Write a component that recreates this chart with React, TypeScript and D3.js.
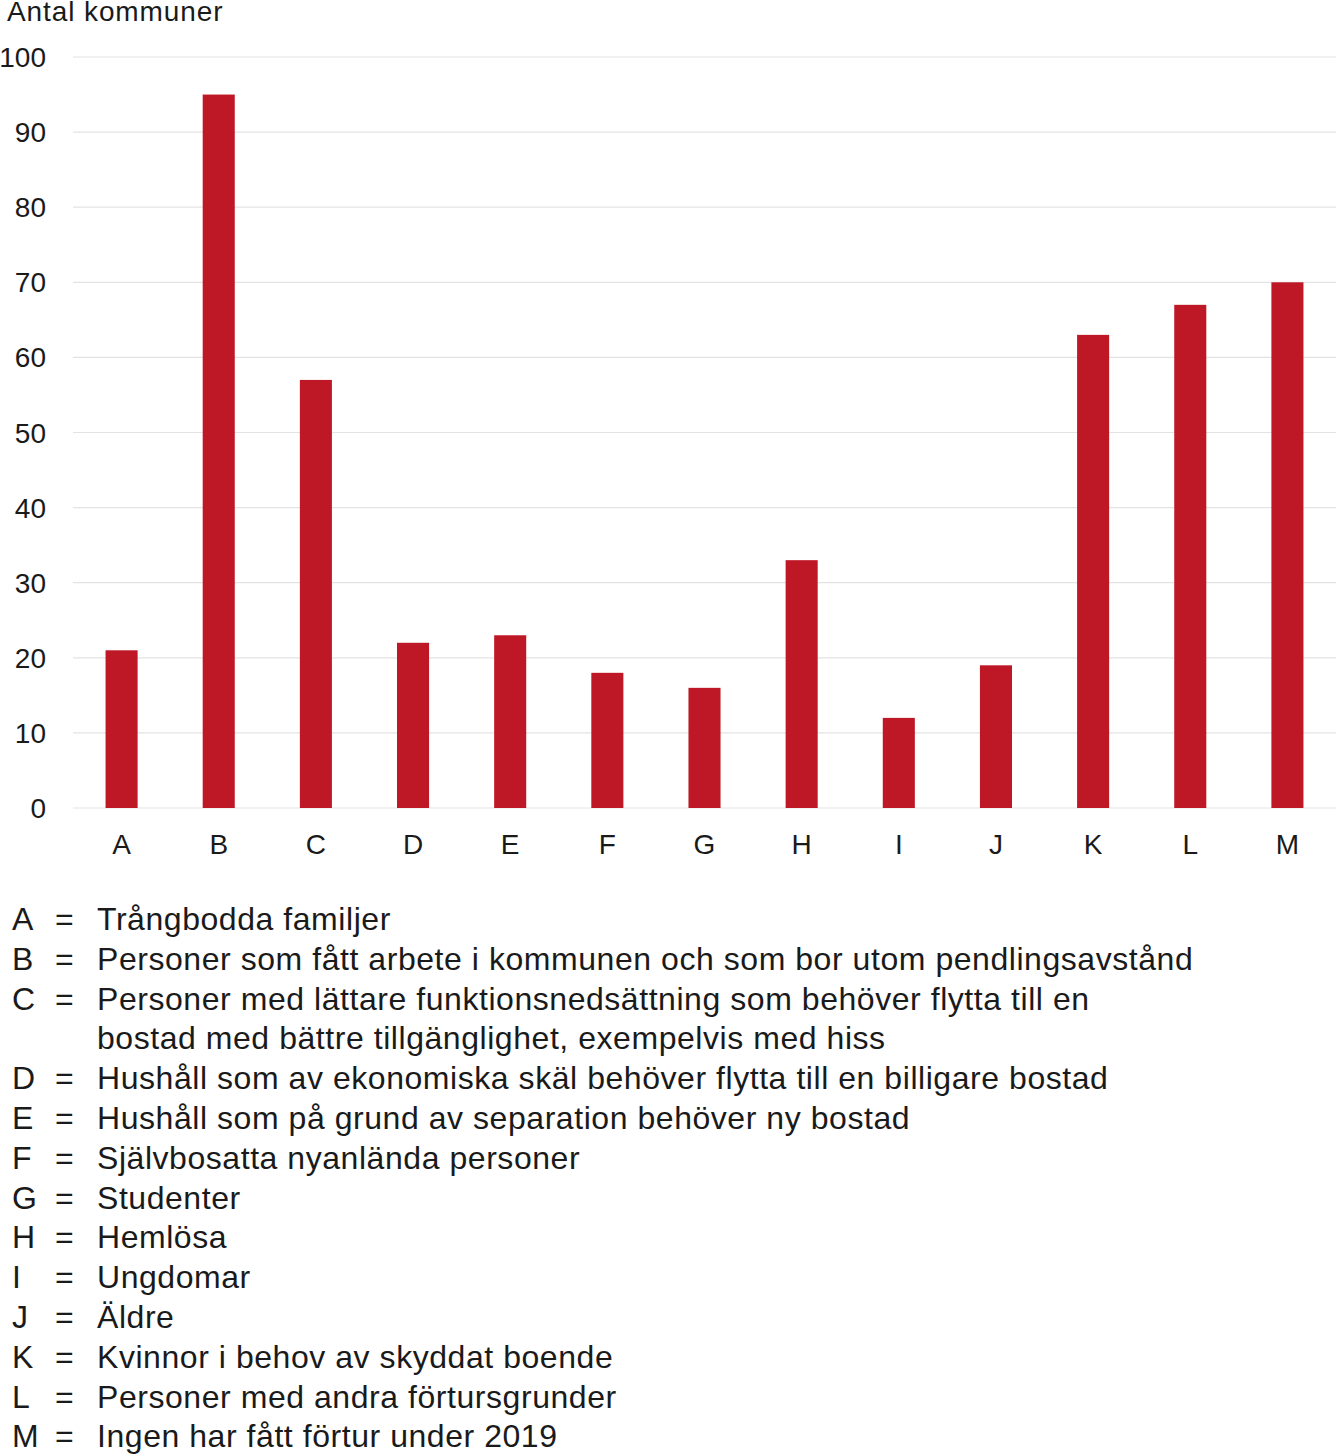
import { useEffect, useRef } from 'react'
import * as d3 from 'd3'

const categories = ['A', 'B', 'C', 'D', 'E', 'F', 'G', 'H', 'I', 'J', 'K', 'L', 'M']
const values = [21, 95, 57, 22, 23, 18, 16, 33, 12, 19, 63, 67, 70]
const yTicks = [0, 10, 20, 30, 40, 50, 60, 70, 80, 90, 100]
const yTitle = 'Antal kommuner'

// legend lines: [letter, text] — continuation lines have no letter
const legendLines: [string, string][] = [
  ['A', 'Trångbodda familjer'],
  ['B', 'Personer som fått arbete i kommunen och som bor utom pendlingsavstånd'],
  ['C', 'Personer med lättare funktionsnedsättning som behöver flytta till en'],
  ['', 'bostad med bättre tillgänglighet, exempelvis med hiss'],
  ['D', 'Hushåll som av ekonomiska skäl behöver flytta till en billigare bostad'],
  ['E', 'Hushåll som på grund av separation behöver ny bostad'],
  ['F', 'Självbosatta nyanlända personer'],
  ['G', 'Studenter'],
  ['H', 'Hemlösa'],
  ['I', 'Ungdomar'],
  ['J', 'Äldre'],
  ['K', 'Kvinnor i behov av skyddat boende'],
  ['L', 'Personer med andra förtursgrunder'],
  ['M', 'Ingen har fått förtur under 2019'],
]

const W = 1336
const H = 1454
const FONT = '"Liberation Sans", Arial, sans-serif'
const INK = '#1a1a1a'

export default function App() {
  const svgRef = useRef<SVGSVGElement | null>(null)

  useEffect(() => {
    const svg = svgRef.current
    if (!svg) return
    const root = d3.select(svg)
    root.selectAll('*').remove()

    const margin = { left: 73, right: 0, top: 57, bottom: 808 }
    const x = d3
      .scaleBand<string>()
      .domain(categories)
      .range([margin.left, W - margin.right])
      .paddingInner(0.67)
      .paddingOuter(0.335)
    const y = d3.scaleLinear().domain([0, 100]).range([margin.bottom, margin.top])

    // gridlines
    root
      .append('g')
      .selectAll('line')
      .data(yTicks)
      .join('line')
      .attr('x1', margin.left)
      .attr('x2', W)
      .attr('y1', (d) => y(d))
      .attr('y2', (d) => y(d))
      .attr('stroke', '#e3e3e3')
      .attr('stroke-width', 1.2)

    // y tick labels
    root
      .append('g')
      .selectAll('text')
      .data(yTicks)
      .join('text')
      .attr('x', 46)
      .attr('y', (d) => y(d) + 10)
      .attr('text-anchor', 'end')
      .attr('font-size', 28)
      .attr('font-family', FONT)
      .attr('fill', INK)
      .text((d) => d)

    root
      .append('text')
      .attr('x', 7)
      .attr('y', 21)
      .attr('font-size', 28)
      .attr('letter-spacing', 0.9)
      .attr('font-family', FONT)
      .attr('fill', INK)
      .text(yTitle)

    // bars
    root
      .append('g')
      .selectAll('rect')
      .data(values)
      .join('rect')
      .attr('x', (_, i) => x(categories[i])!)
      .attr('width', x.bandwidth())
      .attr('y', (d) => y(d))
      .attr('height', (d) => y(0) - y(d))
      .attr('fill', '#be1827')

    // x labels
    root
      .append('g')
      .selectAll('text')
      .data(categories)
      .join('text')
      .attr('x', (d) => x(d)! + x.bandwidth() / 2)
      .attr('y', 854)
      .attr('text-anchor', 'middle')
      .attr('font-size', 28)
      .attr('font-family', FONT)
      .attr('fill', INK)
      .text((d) => d)

    // legend
    const lg = root
      .append('g')
      .selectAll('g')
      .data(legendLines)
      .join('g')
      .attr('transform', (_, i) => `translate(0, ${930 + i * 39.8})`)
      .attr('font-size', 32)
      .attr('font-family', FONT)
      .attr('fill', INK)
    lg.append('text')
      .attr('x', 12)
      .text((d) => d[0])
    lg.append('text')
      .attr('x', 55)
      .text((d) => (d[0] ? '=' : ''))
    lg.append('text')
      .attr('x', 97)
      .attr('letter-spacing', 0.55)
      .text((d) => d[1])
  }, [])

  return (
    <svg
      ref={svgRef}
      width={W}
      height={H}
      viewBox={`0 0 ${W} ${H}`}
      style={{ display: 'block', position: 'absolute', left: 0, top: 0, background: '#fff' }}
    />
  )
}
